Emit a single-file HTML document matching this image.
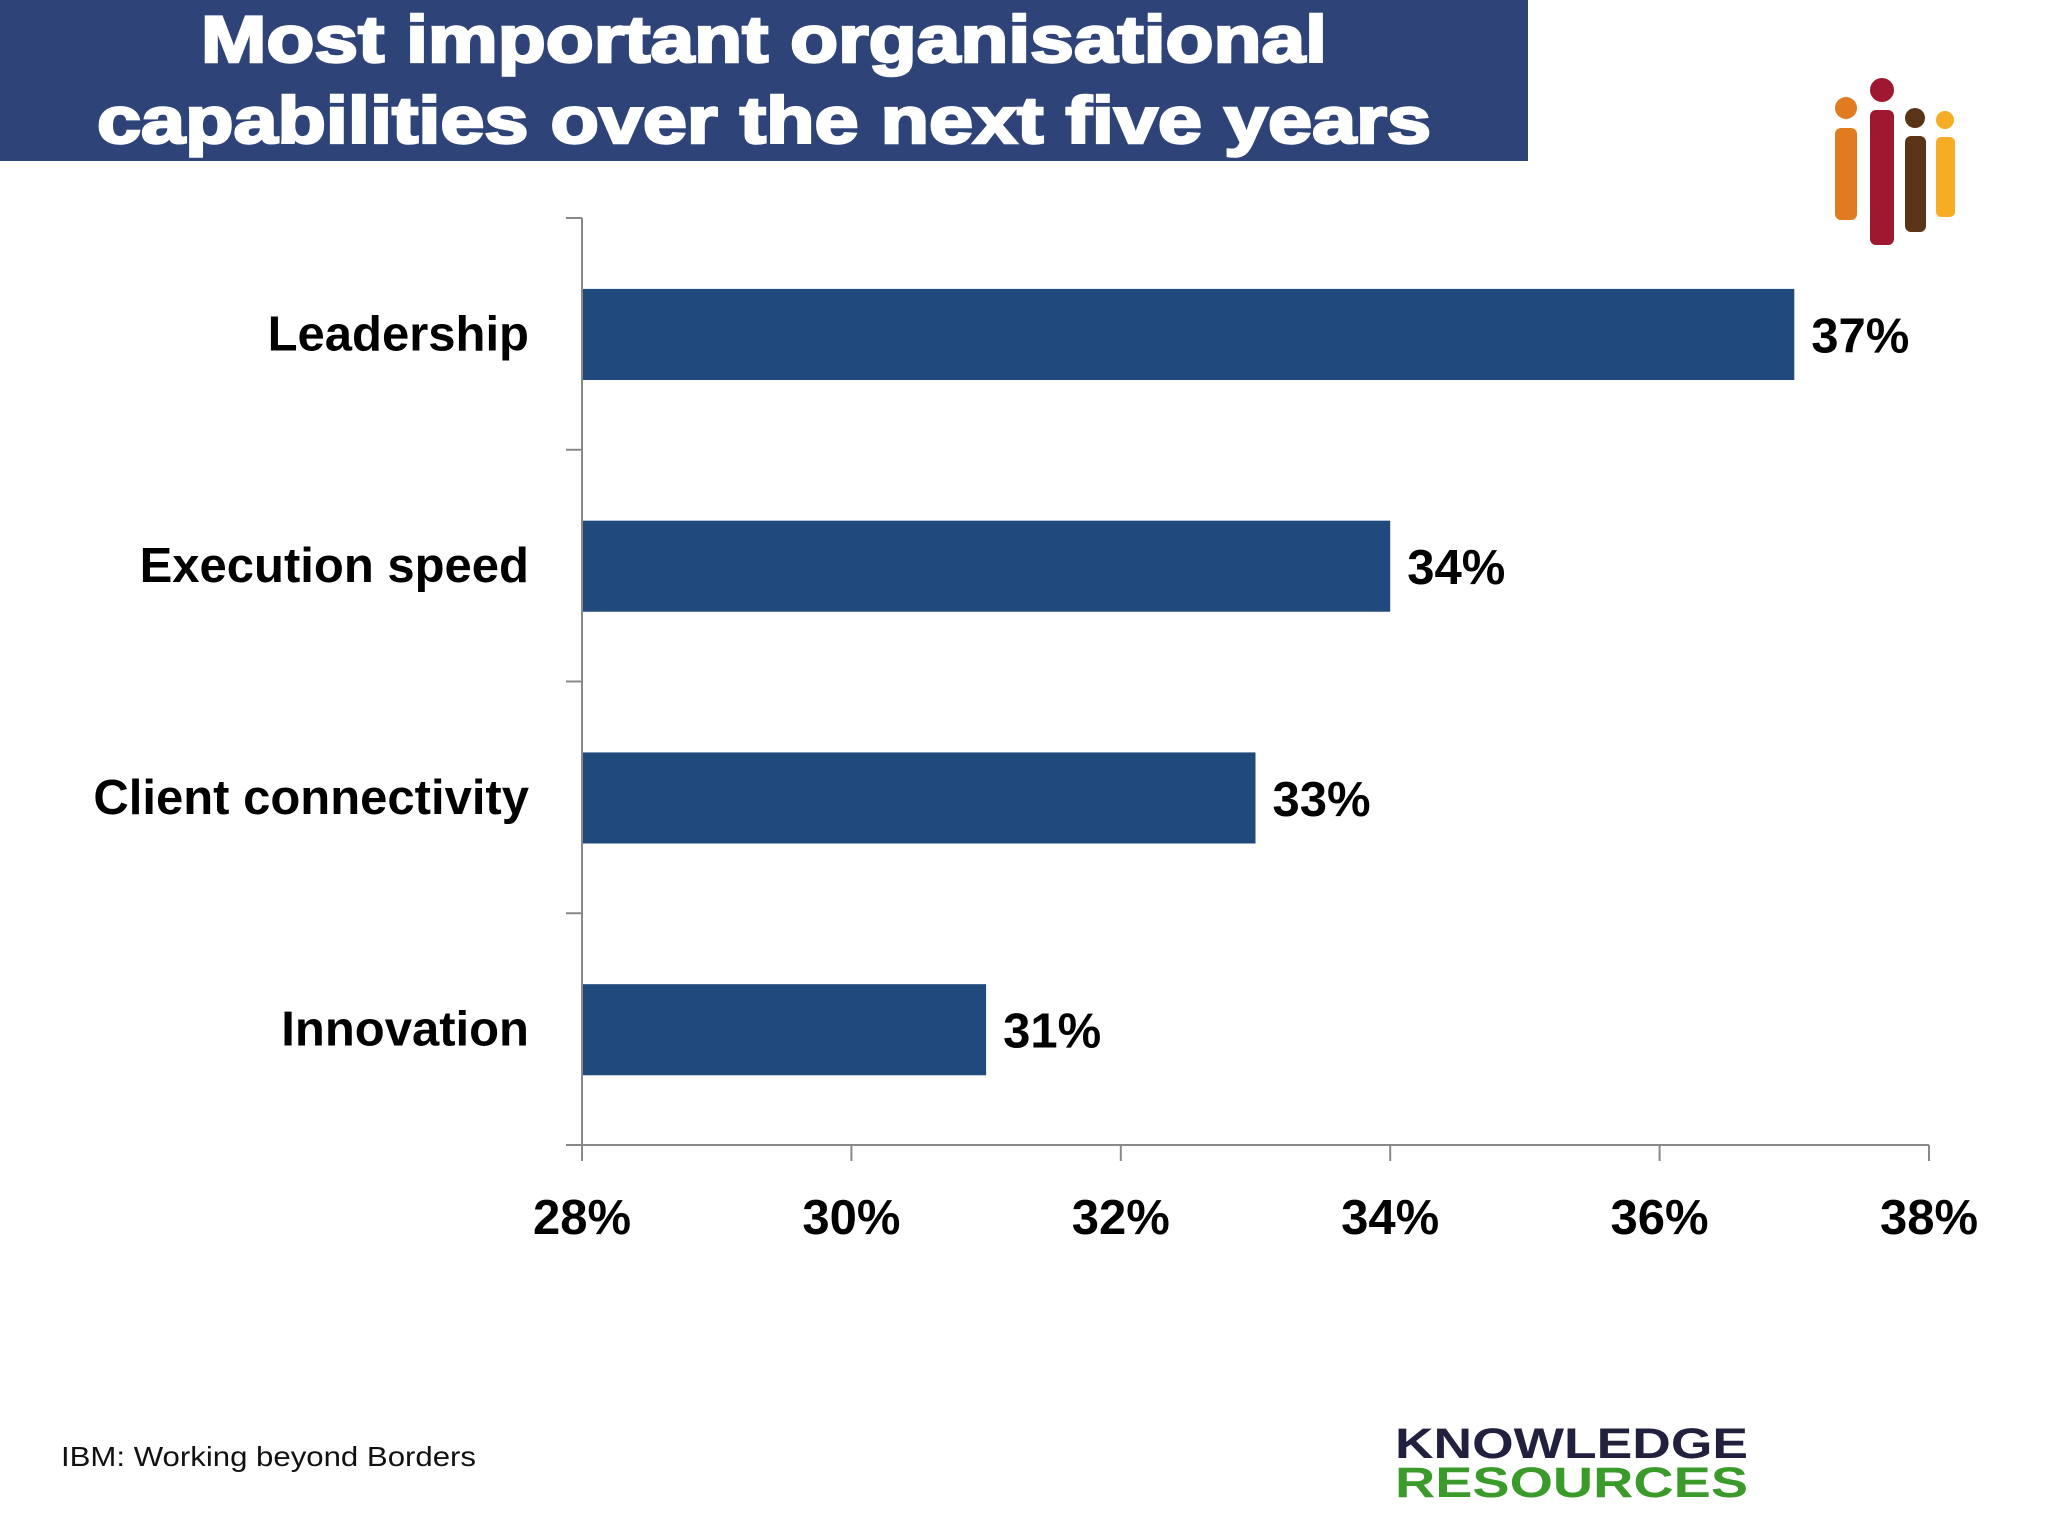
<!DOCTYPE html>
<html><head><meta charset="utf-8"><style>
html,body{margin:0;padding:0;background:#fff}
svg{display:block}
</style></head><body>
<svg width="2048" height="1536" viewBox="0 0 2048 1536" xmlns="http://www.w3.org/2000/svg">
<rect x="0" y="0" width="1528" height="161" fill="#2e4479"/>
<g font-family="Liberation Sans, sans-serif" font-weight="bold" fill="#fff" stroke="#fff" stroke-width="2.5" font-size="66" text-anchor="middle">
<text x="764" y="62" textLength="1126" lengthAdjust="spacingAndGlyphs">Most important organisational</text>
<text x="764" y="143" textLength="1334" lengthAdjust="spacingAndGlyphs">capabilities over the next five years</text>
</g>
<g>
<circle cx="1846" cy="108" r="11" fill="#e07b1f"/>
<rect x="1835" y="128" width="22" height="92" rx="6" fill="#e07b1f"/>
<circle cx="1882" cy="90" r="12" fill="#a01830"/>
<rect x="1870" y="110" width="24" height="135" rx="6" fill="#a01830"/>
<circle cx="1915" cy="118" r="10" fill="#5a3417"/>
<rect x="1905" y="136" width="21" height="96" rx="6" fill="#5a3417"/>
<circle cx="1945" cy="120" r="9" fill="#f6ad25"/>
<rect x="1936" y="137" width="19" height="80" rx="5" fill="#f6ad25"/>
</g>
<g id="plot"></g>
<text x="61" y="1466" font-family="Liberation Sans, sans-serif" font-size="28" fill="#111" textLength="415" lengthAdjust="spacingAndGlyphs">IBM: Working beyond Borders</text>
<g font-family="Liberation Sans, sans-serif" font-weight="bold" font-size="43">
<text x="1395" y="1458" fill="#22203f" textLength="353" lengthAdjust="spacingAndGlyphs">KNOWLEDGE</text>
<text x="1395" y="1497" fill="#3a9a2a" textLength="353" lengthAdjust="spacingAndGlyphs">RESOURCES</text>
</g>
</svg>
<script>
const categories = ["Leadership","Execution speed","Client connectivity","Innovation"];
const values = [37,34,33,31];
const valueLabels = ["37%","34%","33%","31%"];
const ticks = [28,30,32,34,36,38];
const tickLabels = ["28%","30%","32%","34%","36%","38%"];

const NS="http://www.w3.org/2000/svg";
const g=document.getElementById('plot');
const X0=582,X1=1929,Y0=218,Y1=1145,xmin=28,xmax=38;
const x=v=>X0+(v-xmin)/(xmax-xmin)*(X1-X0);
const band=(Y1-Y0)/categories.length;
const y=i=>Y0+i*band;
function el(t,a){const e=document.createElementNS(NS,t);for(const k in a)e.setAttribute(k,a[k]);g.appendChild(e);return e;}
categories.forEach((c,i)=>{
  const by=y(i)+band*0.306, bh=band*0.393;
  const r=el('rect',{x:X0+1,y:by,width:x(values[i])-X0-1,height:bh,fill:'#214a7c'});
  
  
  const l=el('text',{x:529,y:by+bh/2+16,'text-anchor':'end','font-family':'Liberation Sans Narrow, Liberation Sans, sans-serif','font-weight':'bold','font-size':'49',fill:'#000'});
  l.textContent=c;
  
  
  const v=el('text',{x:x(values[i])+17,y:by+bh/2+18,'font-family':'Liberation Sans Narrow, Liberation Sans, sans-serif','font-weight':'bold','font-size':'49',fill:'#000'});
  v.textContent=valueLabels[i];
  
  
});
const ya=el('line',{x1:X0,y1:Y0,x2:X0,y2:Y1,stroke:'#888','stroke-width':2});


for(let i=0;i<=categories.length;i++){
  const t=el('line',{x1:X0-16,y1:y(i),x2:X0,y2:y(i),stroke:'#888','stroke-width':2});
  
  
}
const xa=el('line',{x1:X0-16,y1:Y1,x2:X1,y2:Y1,stroke:'#888','stroke-width':2});


ticks.forEach((t,i)=>{
  const k=el('line',{x1:x(t),y1:Y1,x2:x(t),y2:Y1+16,stroke:'#888','stroke-width':2});
  
  
  const l=el('text',{x:x(t),y:1234,'text-anchor':'middle','font-family':'Liberation Sans Narrow, Liberation Sans, sans-serif','font-weight':'bold','font-size':'49',fill:'#000'});
  l.textContent=tickLabels[i];
  
  
});
</script>
</body></html>
